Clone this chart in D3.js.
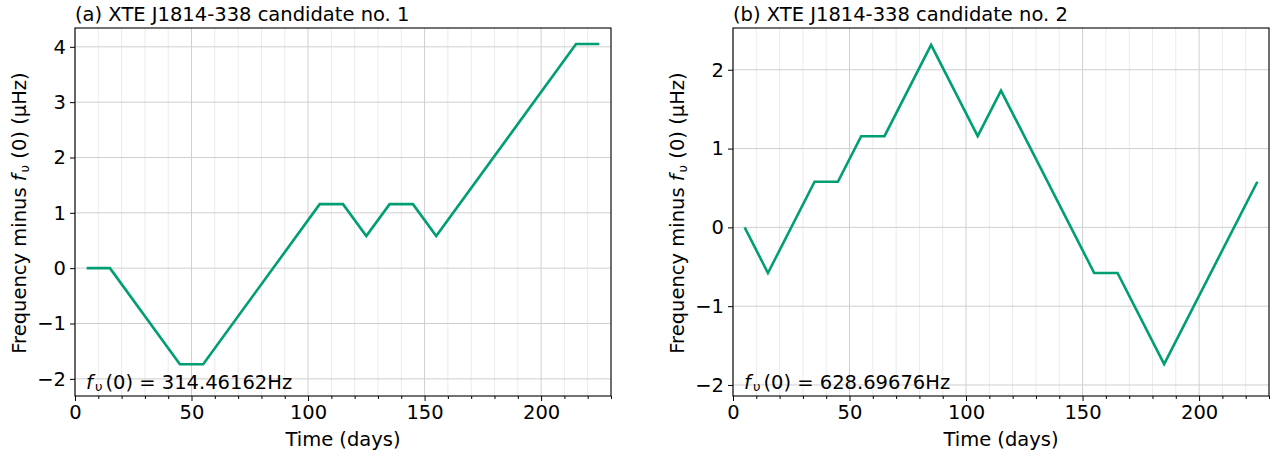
<!DOCTYPE html>
<html>
<head>
<meta charset="utf-8">
<script src="https://cdn.jsdelivr.net/npm/d3@7"></script>
<style>
  html, body { margin: 0; padding: 0; background: #fff; }
  svg text { font-family: "DejaVu Sans", sans-serif; fill: #000; }
</style>
</head>
<body>
<svg id="chart" width="1280" height="456"></svg>
<script>
// Frequency offsets in μHz (steps of 1/(20 days) ≈ 0.5787 μHz)
const daysA = [5, 15, 45, 55, 105, 115, 125, 135, 145, 155, 215, 225];
const freqA = [0, 0, -1.736, -1.736, 1.157, 1.157, 0.579, 1.157, 1.157, 0.579, 4.051, 4.051];

const daysB = [5, 15, 35, 45, 55, 65, 85, 105, 115, 155, 165, 185, 225];
const freqB = [0, -0.579, 0.579, 0.579, 1.157, 1.157, 2.315, 1.157, 1.736, -0.579, -0.579, -1.736, 0.579];

const xTicks = [0, 50, 100, 150, 200];
const yTicksA = [-2, -1, 0, 1, 2, 3, 4];
const yTicksB = [-2, -1, 0, 1, 2];

const titles = ["(a) XTE J1814-338 candidate no. 1", "(b) XTE J1814-338 candidate no. 2"];
const baseFreq = ["314.46162Hz", "628.69676Hz"];

const panels = [
  { days: daysA, freq: freqA, yTicks: yTicksA, yDomain: [-2.31, 4.34], left: 75, title: titles[0], f0: baseFreq[0] },
  { days: daysB, freq: freqB, yTicks: yTicksB, yDomain: [-2.14, 2.53], left: 733, title: titles[1], f0: baseFreq[1] }
];

const svg = d3.select("#chart");
const plotW = 536, plotTop = 28, plotBottom = 396;
const lineColor = "#009E73";
const fs = 19.5;

function minus(v) { return String(v).replace("-", "\u2212"); }

panels.forEach(p => {
  const x = d3.scaleLinear().domain([0, 230]).range([p.left, p.left + plotW]);
  const y = d3.scaleLinear().domain(p.yDomain).range([plotBottom, plotTop]);
  const g = svg.append("g");

  // minor x grid every 10 days
  const minorX = d3.range(0, 231, 10).filter(v => v % 50 !== 0);
  g.append("g").selectAll("line").data(minorX).join("line")
    .attr("x1", d => x(d)).attr("x2", d => x(d))
    .attr("y1", plotTop).attr("y2", plotBottom)
    .attr("stroke", "#ebebeb").attr("stroke-width", 1);

  // major grid
  g.append("g").selectAll("line").data(xTicks).join("line")
    .attr("x1", d => x(d)).attr("x2", d => x(d))
    .attr("y1", plotTop).attr("y2", plotBottom)
    .attr("stroke", "#cfcfcf").attr("stroke-width", 1);
  g.append("g").selectAll("line").data(p.yTicks).join("line")
    .attr("x1", p.left).attr("x2", p.left + plotW)
    .attr("y1", d => y(d)).attr("y2", d => y(d))
    .attr("stroke", "#cfcfcf").attr("stroke-width", 1);

  // data line
  const pts = p.days.map((d, i) => [d, p.freq[i]]);
  g.append("path").datum(pts)
    .attr("d", d3.line().x(d => x(d[0])).y(d => y(d[1])))
    .attr("fill", "none").attr("stroke", lineColor).attr("stroke-width", 2.6)
    .attr("stroke-linejoin", "miter");

  // frame
  g.append("rect").attr("x", p.left).attr("y", plotTop)
    .attr("width", plotW).attr("height", plotBottom - plotTop)
    .attr("fill", "none").attr("stroke", "#000").attr("stroke-width", 1.1);

  // x axis
  const xAxis = d3.axisBottom(x).tickValues(xTicks).tickSize(5).tickPadding(4).tickFormat(d3.format("d"));
  const xa = g.append("g").attr("transform", `translate(0,${plotBottom})`).call(xAxis);
  xa.select(".domain").remove();
  xa.selectAll("text").attr("font-size", fs).attr("font-family", "DejaVu Sans");
  const xMinor = d3.axisBottom(x).tickValues(minorX).tickSize(3).tickFormat("");
  const xm = g.append("g").attr("transform", `translate(0,${plotBottom})`).call(xMinor);
  xm.select(".domain").remove();

  // y axis
  const yAxis = d3.axisLeft(y).tickValues(p.yTicks).tickSize(5).tickPadding(4).tickFormat(d => minus(d));
  const ya = g.append("g").attr("transform", `translate(${p.left},0)`).call(yAxis);
  ya.select(".domain").remove();
  ya.selectAll("text").attr("font-size", fs).attr("font-family", "DejaVu Sans");

  // title
  g.append("text").attr("x", p.left).attr("y", 21).attr("font-size", fs).text(p.title);

  // x label
  g.append("text").attr("x", p.left + plotW / 2).attr("y", 446)
    .attr("text-anchor", "middle").attr("font-size", fs).text("Time (days)");

  // y label
  const yl = g.append("text")
    .attr("transform", `translate(${p.left - 49},${(plotTop + plotBottom) / 2 + 1}) rotate(-90)`)
    .attr("text-anchor", "middle").attr("font-size", fs);
  yl.append("tspan").text("Frequency minus ");
  yl.append("tspan").attr("font-style", "italic").text("f");
  yl.append("tspan").attr("font-size", 13).attr("dx", 2).attr("dy", 3).text("\u03c5");
  yl.append("tspan").attr("dy", -3).text(" (0) (\u03bcHz)");

  // base frequency annotation
  const an = g.append("text").attr("x", p.left + 11).attr("y", 389).attr("font-size", fs);
  an.append("tspan").attr("font-style", "italic").text("f");
  an.append("tspan").attr("font-size", 13).attr("dx", 2).attr("dy", 2).text("\u03c5");
  an.append("tspan").attr("dx", 3).attr("dy", -2).text("(0) = " + p.f0);
});
</script>
</body>
</html>
